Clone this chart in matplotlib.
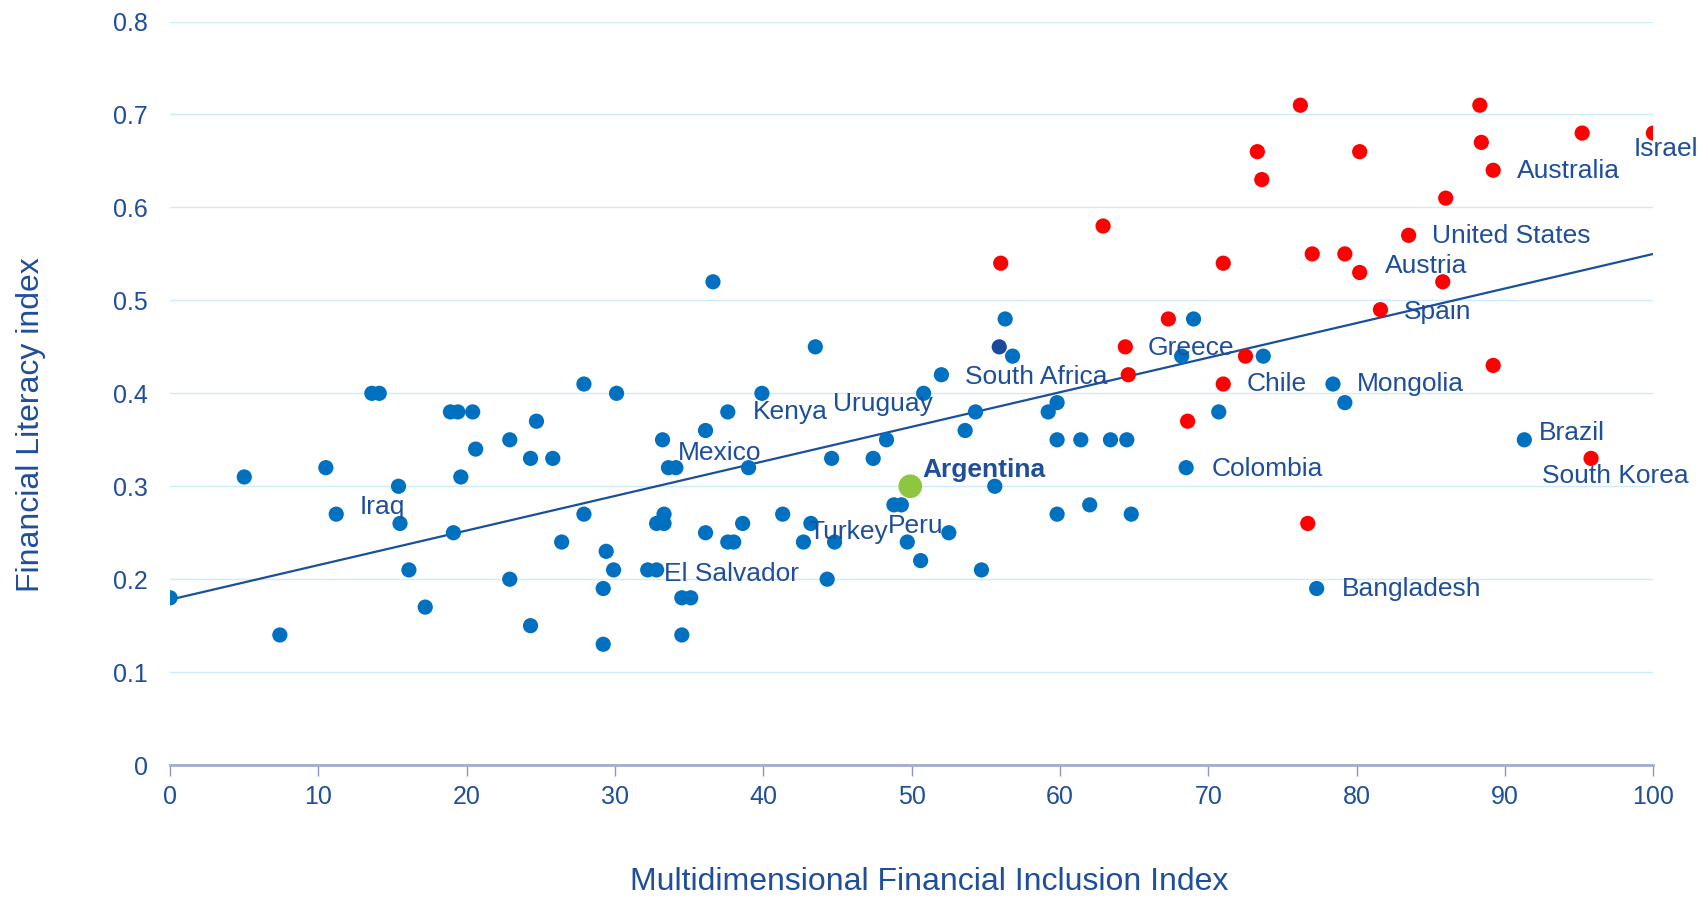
import matplotlib
matplotlib.use("Agg")
import matplotlib.pyplot as plt
import numpy as np

plt.rcParams['font.family'] = ['Liberation Sans', 'DejaVu Sans']

# Data
blue_x = [0, 5, 7.4, 10.5, 11.2, 13.6, 14.1, 15.4, 15.5, 16.1, 17.2, 18.9, 19.4, 19.1, 19.6,
          20.4, 20.6, 22.9, 22.9, 24.3, 24.3, 24.7, 25.8, 26.4, 27.9, 27.9, 29.2, 29.2, 29.4,
          29.9, 30.1, 32.2, 32.8, 32.8, 33.3, 33.2, 33.3, 33.6, 34.1, 34.5, 35.1, 34.5, 36.1,
          36.1, 36.6, 37.6, 38.0, 37.6, 38.6, 39.0, 39.9, 41.3, 42.7, 43.2, 43.5, 44.3, 44.6,
          44.8, 47.4, 48.3, 48.8, 49.3, 49.7, 50.6, 50.8, 52.0, 52.5, 53.6, 54.3, 54.7, 55.6,
          56.3, 56.8, 59.2, 59.8, 59.8, 59.8, 61.4, 62.0, 63.4, 64.5, 64.8, 68.2, 68.5, 69.0,
          70.7, 73.7, 77.3, 78.4, 79.2, 91.3]
blue_y = [0.18, 0.31, 0.14, 0.32, 0.27, 0.40, 0.40, 0.30, 0.26, 0.21, 0.17, 0.38, 0.38, 0.25, 0.31,
          0.38, 0.34, 0.35, 0.20, 0.33, 0.15, 0.37, 0.33, 0.24, 0.41, 0.27, 0.13, 0.19, 0.23,
          0.21, 0.40, 0.21, 0.21, 0.26, 0.26, 0.35, 0.27, 0.32, 0.32, 0.18, 0.18, 0.14, 0.25,
          0.36, 0.52, 0.24, 0.24, 0.38, 0.26, 0.32, 0.40, 0.27, 0.24, 0.26, 0.45, 0.20, 0.33,
          0.24, 0.33, 0.35, 0.28, 0.28, 0.24, 0.22, 0.40, 0.42, 0.25, 0.36, 0.38, 0.21, 0.30,
          0.48, 0.44, 0.38, 0.39, 0.35, 0.27, 0.35, 0.28, 0.35, 0.35, 0.27, 0.44, 0.32, 0.48,
          0.38, 0.44, 0.19, 0.41, 0.39, 0.35]

red_x = [56.0, 62.9, 64.4, 64.6, 67.3, 68.6, 71.0, 71.0, 72.5, 73.3, 73.6, 76.2, 76.7, 77.0,
         79.2, 80.2, 80.2, 81.6, 83.5, 85.8, 86.0, 88.3, 88.4, 89.2, 89.2, 95.2, 95.8, 100.0]
red_y = [0.54, 0.58, 0.45, 0.42, 0.48, 0.37, 0.54, 0.41, 0.44, 0.66, 0.63, 0.71, 0.26, 0.55,
         0.55, 0.66, 0.53, 0.49, 0.57, 0.52, 0.61, 0.71, 0.67, 0.64, 0.43, 0.68, 0.33, 0.68]

navy_x = [55.9]
navy_y = [0.45]

argentina_x = [49.9]
argentina_y = [0.30]

trend_x = [0, 100]
trend_y = [0.178, 0.55]

label_names = ["Iraq", "El Salvador", "Mexico", "Kenya", "Uruguay", "Turkey", "Peru",
               "South Africa", "Greece", "Chile", "Mongolia", "Colombia", "Bangladesh",
               "Brazil", "South Korea", "Spain", "Austria", "United States", "Australia", "Israel"]
label_x = [12.8, 33.3, 34.2, 39.3, 44.7, 43.0, 48.4, 53.6, 65.9, 72.6, 80.0, 70.2, 79.0,
           92.3, 92.5, 83.2, 81.9, 85.1, 90.8, 98.7]
label_y = [0.278, 0.206, 0.336, 0.380, 0.388, 0.251, 0.257, 0.418, 0.449, 0.410, 0.410,
           0.319, 0.189, 0.357, 0.311, 0.488, 0.537, 0.569, 0.639, 0.663]

x_ticks = [0, 10, 20, 30, 40, 50, 60, 70, 80, 90, 100]
y_ticks = [0, 0.1, 0.2, 0.3, 0.4, 0.5, 0.6, 0.7, 0.8]
y_tick_labels = ["0", "0.1", "0.2", "0.3", "0.4", "0.5", "0.6", "0.7", "0.8"]

TXT = '#1F4E9A'
BLUE = '#0070C0'

fig = plt.figure(figsize=(17.01, 8.98), dpi=100)
ax = fig.add_axes([0.100, 0.148, 0.872, 0.828])

ax.plot(trend_x, trend_y, color='#1A4F9C', lw=1.6, zorder=2)
ax.scatter(blue_x, blue_y, s=120, color=BLUE, edgecolors='none', zorder=3)
ax.scatter(navy_x, navy_y, s=120, color='#1B4A9C', edgecolors='none', zorder=3)
ax.scatter(red_x, red_y, s=120, color='#FF0000', edgecolors='none', zorder=3)
ax.scatter(argentina_x, argentina_y, s=290, color='#8DC63F', edgecolors='none', zorder=4)

for name, lx, ly in zip(label_names, label_x, label_y):
    ax.text(lx, ly, name, fontsize=19, color=TXT, va='center', ha='left', zorder=5)
ax.text(50.7, 0.318, "Argentina", fontsize=19, color=TXT, fontweight='bold',
        va='center', ha='left', zorder=5)

ax.set_xlim(0, 100)
ax.set_ylim(0, 0.8)
ax.set_xticks(x_ticks)
ax.set_yticks(y_ticks)
ax.set_yticklabels(y_tick_labels)

ax.grid(axis='y', color='#CDEBF8', lw=1.0, zorder=0)
ax.set_axisbelow(True)
for s in ['top', 'right', 'left']:
    ax.spines[s].set_visible(False)
ax.spines['bottom'].set_color('#A3ABCF')
ax.spines['bottom'].set_linewidth(2)

ax.tick_params(axis='y', length=0, pad=16, labelsize=18, labelcolor=TXT)
ax.tick_params(axis='x', length=8, width=1, color='#8C96C4', direction='out', pad=6,
               labelsize=18, labelcolor=TXT)

ax.set_xlabel("Multidimensional Financial Inclusion Index", fontsize=23, color=TXT, labelpad=42)
ax.set_ylabel("Financial Literacy index", fontsize=23, color=TXT, labelpad=48)
ax.xaxis.label.set_x(0.512)
ax.yaxis.label.set_y(0.458)

fig.savefig("out.png", dpi=100)
